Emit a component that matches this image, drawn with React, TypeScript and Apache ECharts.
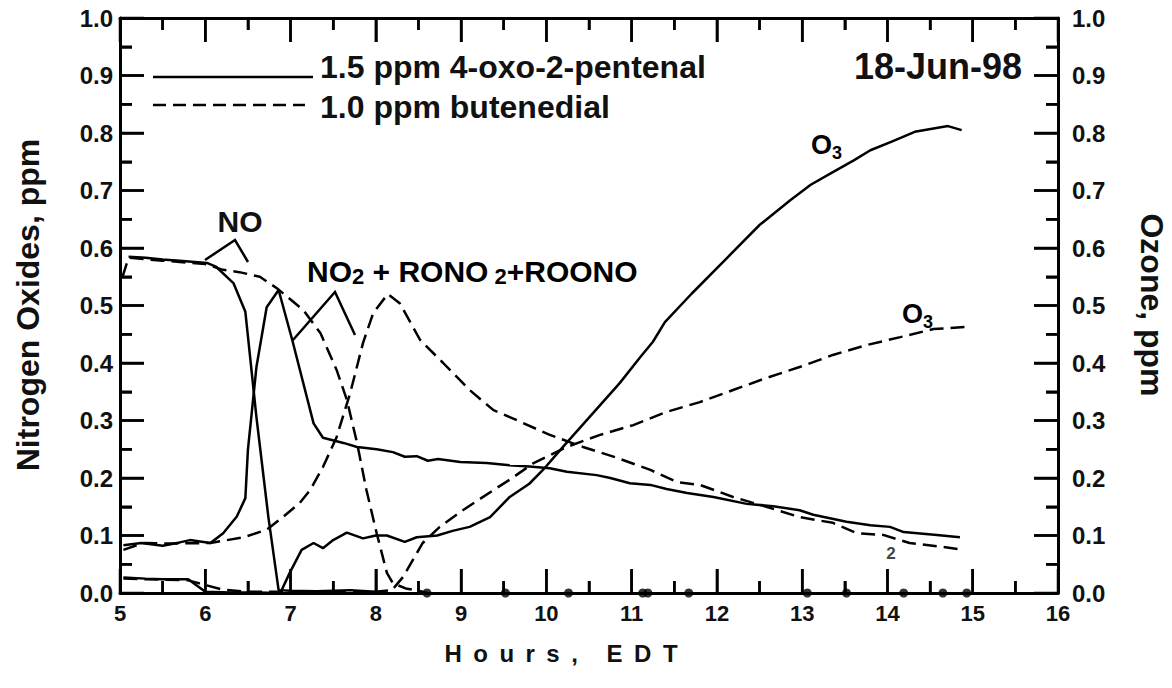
import React, { useEffect, useRef } from "react";
import * as echarts from "echarts";

// ---- tick ranges ----
const hourMin = 5;
const hourMax = 16;
const hourStep = 1;
const ppmMin = 0;
const ppmMax = 1;
const ppmStep = 0.1;

// ---- 1.5 ppm 4-oxo-2-pentenal (solid) ----
const noOxo: number[][] = [
  [5.1, 0.585], [5.3, 0.583], [5.5, 0.58], [5.7, 0.578], [6.02, 0.574], [6.13, 0.567],
  [6.33, 0.539], [6.47, 0.489], [6.6, 0.306], [6.74, 0.132], [6.86, 0.005], [7.0, 0.004],
  [7.3, 0.003], [7.7, 0.005], [8.0, 0.002],
];
const no2Oxo: number[][] = [
  [5.04, 0.083], [5.25, 0.087], [5.5, 0.082], [5.7, 0.088], [5.82, 0.092], [6.06, 0.087],
  [6.21, 0.104], [6.37, 0.133], [6.47, 0.165], [6.5, 0.249], [6.6, 0.393], [6.72, 0.497],
  [6.86, 0.527], [7.02, 0.44], [7.27, 0.295], [7.38, 0.27], [7.62, 0.261], [7.78, 0.254],
  [8.01, 0.25], [8.2, 0.245], [8.34, 0.237], [8.48, 0.238], [8.61, 0.23], [8.73, 0.233],
  [8.99, 0.228], [9.3, 0.226], [9.57, 0.222], [9.8, 0.22], [10.04, 0.217], [10.24, 0.211],
  [10.59, 0.205], [10.75, 0.2], [10.98, 0.191], [11.22, 0.188], [11.41, 0.181], [11.65, 0.174],
  [11.96, 0.167], [12.35, 0.155], [12.66, 0.151], [12.97, 0.144], [13.13, 0.136], [13.52, 0.124],
  [13.8, 0.118], [14.03, 0.115], [14.19, 0.106], [14.58, 0.101], [14.85, 0.097],
];
const o3Oxo: number[][] = [
  [5.04, 0.027], [5.3, 0.025], [5.5, 0.024], [5.8, 0.024], [6.0, 0.002], [6.3, 0.001],
  [6.6, 0.001], [6.88, 0.0], [6.99, 0.035], [7.13, 0.075], [7.27, 0.087], [7.38, 0.078],
  [7.5, 0.092], [7.66, 0.105], [7.85, 0.095], [8.0, 0.1], [8.13, 0.1], [8.34, 0.089],
  [8.48, 0.097], [8.72, 0.1], [8.9, 0.108], [9.1, 0.115], [9.34, 0.132], [9.57, 0.167],
  [9.8, 0.19], [9.96, 0.214], [10.2, 0.255], [10.5, 0.305], [10.86, 0.365], [11.1, 0.41],
  [11.25, 0.437], [11.39, 0.471], [11.7, 0.52], [12.12, 0.583], [12.5, 0.64], [12.86, 0.683],
  [13.1, 0.71], [13.36, 0.732], [13.6, 0.752], [13.8, 0.77], [14.05, 0.785], [14.32, 0.802],
  [14.71, 0.812], [14.87, 0.805],
];

// ---- 1.0 ppm butenedial (dashed) ----
const noBut: number[][] = [
  [5.03, 0.55], [5.1, 0.583], [5.5, 0.578], [6.0, 0.572], [6.21, 0.562], [6.4, 0.558],
  [6.64, 0.55], [6.84, 0.53], [7.15, 0.492], [7.35, 0.452], [7.54, 0.388], [7.66, 0.336],
  [7.78, 0.261], [7.89, 0.179], [8.01, 0.104], [8.13, 0.035], [8.2, 0.017], [8.35, 0.008],
  [8.5, 0.004], [8.6, 0.0],
];
const noButZeroHours: number[] = [8.6, 9.52, 10.26, 11.13, 11.19, 11.67, 13.06, 13.52, 14.19, 14.65, 14.93];
const no2But: number[][] = [
  [5.04, 0.075], [5.27, 0.087], [5.6, 0.086], [6.06, 0.087], [6.45, 0.097], [6.72, 0.11],
  [6.91, 0.132], [7.11, 0.157], [7.23, 0.179], [7.38, 0.219], [7.54, 0.271], [7.7, 0.348],
  [7.85, 0.435], [7.97, 0.487], [8.14, 0.52], [8.28, 0.504], [8.52, 0.44], [8.79, 0.4],
  [9.1, 0.353], [9.38, 0.318], [9.57, 0.306], [10.04, 0.275], [10.43, 0.254], [10.83, 0.235],
  [11.22, 0.214], [11.53, 0.193], [11.8, 0.188], [12.19, 0.167], [12.58, 0.15], [12.97, 0.132],
  [13.36, 0.122], [13.64, 0.104], [13.95, 0.101], [14.26, 0.087], [14.65, 0.08], [14.89, 0.075],
];
const o3But: number[][] = [
  [5.04, 0.025], [5.8, 0.022], [5.9, 0.018], [6.2, 0.006], [6.5, 0.002], [7.0, 0.002],
  [7.5, 0.002], [8.0, 0.002], [8.19, 0.005], [8.32, 0.028], [8.55, 0.087], [8.75, 0.115],
  [9.02, 0.144], [9.38, 0.179], [9.57, 0.197], [9.85, 0.226], [10.24, 0.254], [10.63, 0.275],
  [11.02, 0.292], [11.41, 0.315], [11.8, 0.332], [12.19, 0.353], [12.58, 0.374], [12.97, 0.393],
  [13.36, 0.414], [13.75, 0.431], [14.15, 0.445], [14.54, 0.459], [14.93, 0.463],
];

const FONT = "Liberation Sans, Arial, sans-serif";
const INK = "#000";
const TXT = "#111";
const DASH = [14, 7];
const G = " \u2009";
const MAJOR_LEN = 24;
const MINOR_LEN = 12;

const LINE = { show: true, onZero: false, lineStyle: { color: INK, width: 3 } };
const TICK = { show: true, inside: true, length: MAJOR_LEN, lineStyle: { color: INK, width: 2.5 } };
const MINOR = { show: true, splitNumber: 2, length: MINOR_LEN, lineStyle: { color: INK, width: 2.5 } };

function tickAxis(min: number, max: number, interval: number, position: string) {
  return { type: "value", min, max, interval, position, axisLine: LINE, axisTick: TICK, minorTick: MINOR, axisLabel: { show: false }, splitLine: { show: false } };
}
function labelAxis(min: number, max: number, interval: number, position: string, label: any) {
  return { type: "value", min, max, interval, position, axisLine: { show: false, onZero: false }, axisTick: { show: false }, minorTick: { show: false }, axisLabel: label, splitLine: { show: false } };
}

function lineSeries(data: number[][], dashed: boolean, yAxisIndex = 0) {
  return {
    type: "line",
    data,
    yAxisIndex,
    symbol: "none",
    lineStyle: { color: INK, width: 2.5, type: dashed ? DASH : "solid" },
    z: 3,
  };
}

// tick marks (kind 0 = hour ticks, kind 1 = ppm ticks), drawn inside the frame via the axes' scales
function buildTickItems(): number[][] {
  const items: number[][] = [];
  const nx = Math.round((hourMax - hourMin) / hourStep) * 2;
  for (let i = 0; i <= nx; i++) items.push([0, hourMin + (i * hourStep) / 2, i % 2 === 0 ? MAJOR_LEN : MINOR_LEN]);
  const ny = Math.round((ppmMax - ppmMin) / ppmStep) * 2;
  for (let i = 0; i <= ny; i++) items.push([1, ppmMin + (i * ppmStep) / 2, i % 2 === 0 ? MAJOR_LEN : MINOR_LEN]);
  return items;
}

const richSub = (main: number, sub: number, subLH: number) => ({
  m: { fontSize: main, fontWeight: "bold", fontFamily: FONT, color: TXT, lineHeight: main, verticalAlign: "middle" },
  s: { fontSize: sub, fontWeight: "bold", fontFamily: FONT, color: TXT, lineHeight: subLH, verticalAlign: "bottom" },
});

export default function App() {
  const ref = useRef<HTMLDivElement>(null);
  useEffect(() => {
    document.body.style.margin = "0";
    const chart = echarts.init(ref.current!, null, { renderer: "svg" });
    const ylab = (v: number) => Number(v).toFixed(1);
    const tickStyle = { stroke: INK, lineWidth: 2.5 };
    const graphic: any[] = [
      // legend
      { type: "line", shape: { x1: 153, y1: 77, x2: 313, y2: 77 }, style: { stroke: INK, lineWidth: 2.5 } },
      { type: "line", shape: { x1: 153, y1: 105, x2: 305, y2: 105 }, style: { stroke: INK, lineWidth: 2.5, lineDash: [13, 7] } },
      { type: "text", x: 320, y: 67, style: { text: "1.5 ppm 4-oxo-2-pentenal", font: `bold 32px ${FONT}`, fill: TXT, align: "left", verticalAlign: "middle" } },
      { type: "text", x: 320, y: 107, style: { text: "1.0 ppm butenedial", font: `bold 32px ${FONT}`, fill: TXT, align: "left", verticalAlign: "middle" } },
      { type: "text", x: 1022, y: 66, style: { text: "18-Jun-98", font: `bold 36px ${FONT}`, fill: TXT, align: "right", verticalAlign: "middle" } },
      // NO label + pointer
      { type: "text", x: 240, y: 221, style: { text: "NO", font: `bold 30px ${FONT}`, fill: TXT, align: "center", verticalAlign: "middle" } },
      { type: "polyline", shape: { points: [[205, 260], [235, 240], [248, 262]] }, style: { stroke: INK, lineWidth: 2.5, fill: "none" } },
      { type: "polyline", shape: { points: [[293, 340], [335, 292], [355, 335]] }, style: { stroke: INK, lineWidth: 2.5, fill: "none" } },
      { type: "text", x: 891, y: 553, style: { text: "2", font: `bold 17px ${FONT}`, fill: "#444", align: "center", verticalAlign: "middle" } },
      // axis titles
      { type: "text", x: 28, y: 305, rotation: Math.PI / 2, style: { text: "Nitrogen Oxides, ppm", font: `bold 32px ${FONT}`, fill: TXT, align: "center", verticalAlign: "middle" } },
      { type: "text", x: 1152, y: 305, rotation: -Math.PI / 2, style: { text: "Ozone, ppm", font: `bold 32px ${FONT}`, fill: TXT, align: "center", verticalAlign: "middle" } },
      { type: "text", x: 561, y: 653, style: { text: ["H", "o", "u", "r", "s", ","].join(G) + "\u2002\u2002\u2009" + ["E", "D", "T"].join(G), font: `bold 24px ${FONT}`, fill: TXT, align: "center", verticalAlign: "middle" } },
      // labels with subscripts
      { type: "text", x: 307, y: 271, style: { text: "{m|NO}{s|2}{m| + RONO}{s| 2}{m|+ROONO}", align: "left", verticalAlign: "middle", rich: richSub(30, 22, 32) } },
      { type: "text", x: 811, y: 145, style: { text: "{m|O}{s|3}", align: "left", verticalAlign: "middle", rich: richSub(27, 18, 34) } },
      { type: "text", x: 902, y: 314, style: { text: "{m|O}{s|3}", align: "left", verticalAlign: "middle", rich: richSub(27, 18, 34) } },
    ];
    const option: any = {
      animation: false,
      grid: { left: 120, right: 114, top: 18, bottom: 95 },
      xAxis: [
        labelAxis(hourMin, hourMax, hourStep, "bottom", { fontSize: 22, fontWeight: "bold", color: TXT, margin: 9, fontFamily: FONT }),
        tickAxis(hourMin, hourMax, hourStep, "bottom"),
        tickAxis(hourMin, hourMax, hourStep, "top"),
      ],
      yAxis: [
        labelAxis(ppmMin, ppmMax, ppmStep, "left", { fontSize: 24, fontWeight: "bold", color: TXT, margin: 7, fontFamily: FONT, formatter: ylab }),
        labelAxis(ppmMin, ppmMax, ppmStep, "right", { fontSize: 24, fontWeight: "bold", color: TXT, margin: 14, fontFamily: FONT, formatter: ylab }),
        tickAxis(ppmMin, ppmMax, ppmStep, "left"),
        tickAxis(ppmMin, ppmMax, ppmStep, "right"),
      ],
      series: [
        {
          type: "custom",
          data: buildTickItems(),
          silent: true,
          z: 2,
          renderItem: (_params: any, api: any) => {
            const kind = api.value(0);
            const v = api.value(1);
            const len = api.value(2);
            if (kind === 0) {
              const b = api.coord([v, ppmMin]);
              const t = api.coord([v, ppmMax]);
              return {
                type: "group",
                children: [
                  { type: "line", shape: { x1: b[0], y1: b[1], x2: b[0], y2: b[1] - len }, style: tickStyle },
                  { type: "line", shape: { x1: t[0], y1: t[1], x2: t[0], y2: t[1] + len }, style: tickStyle },
                ],
              };
            }
            const l = api.coord([hourMin, v]);
            const r = api.coord([hourMax, v]);
            return {
              type: "group",
              children: [
                { type: "line", shape: { x1: l[0], y1: l[1], x2: l[0] + len, y2: l[1] }, style: tickStyle },
                { type: "line", shape: { x1: r[0], y1: r[1], x2: r[0] - len, y2: r[1] }, style: tickStyle },
              ],
            };
          },
        },
        lineSeries(noOxo, false),
        lineSeries(no2Oxo, false),
        lineSeries(o3Oxo, false, 1),
        lineSeries(noBut, true),
        lineSeries(no2But, true),
        lineSeries(o3But, true, 1),
        { type: "scatter", data: noButZeroHours.map((h) => [h, 0]), symbolSize: 9, clip: false, itemStyle: { color: INK }, z: 6 },
      ],
      graphic,
    };
    chart.setOption(option);
    return () => chart.dispose();
  }, []);
  return <div ref={ref} style={{ width: 1172, height: 688 }} />;
}
